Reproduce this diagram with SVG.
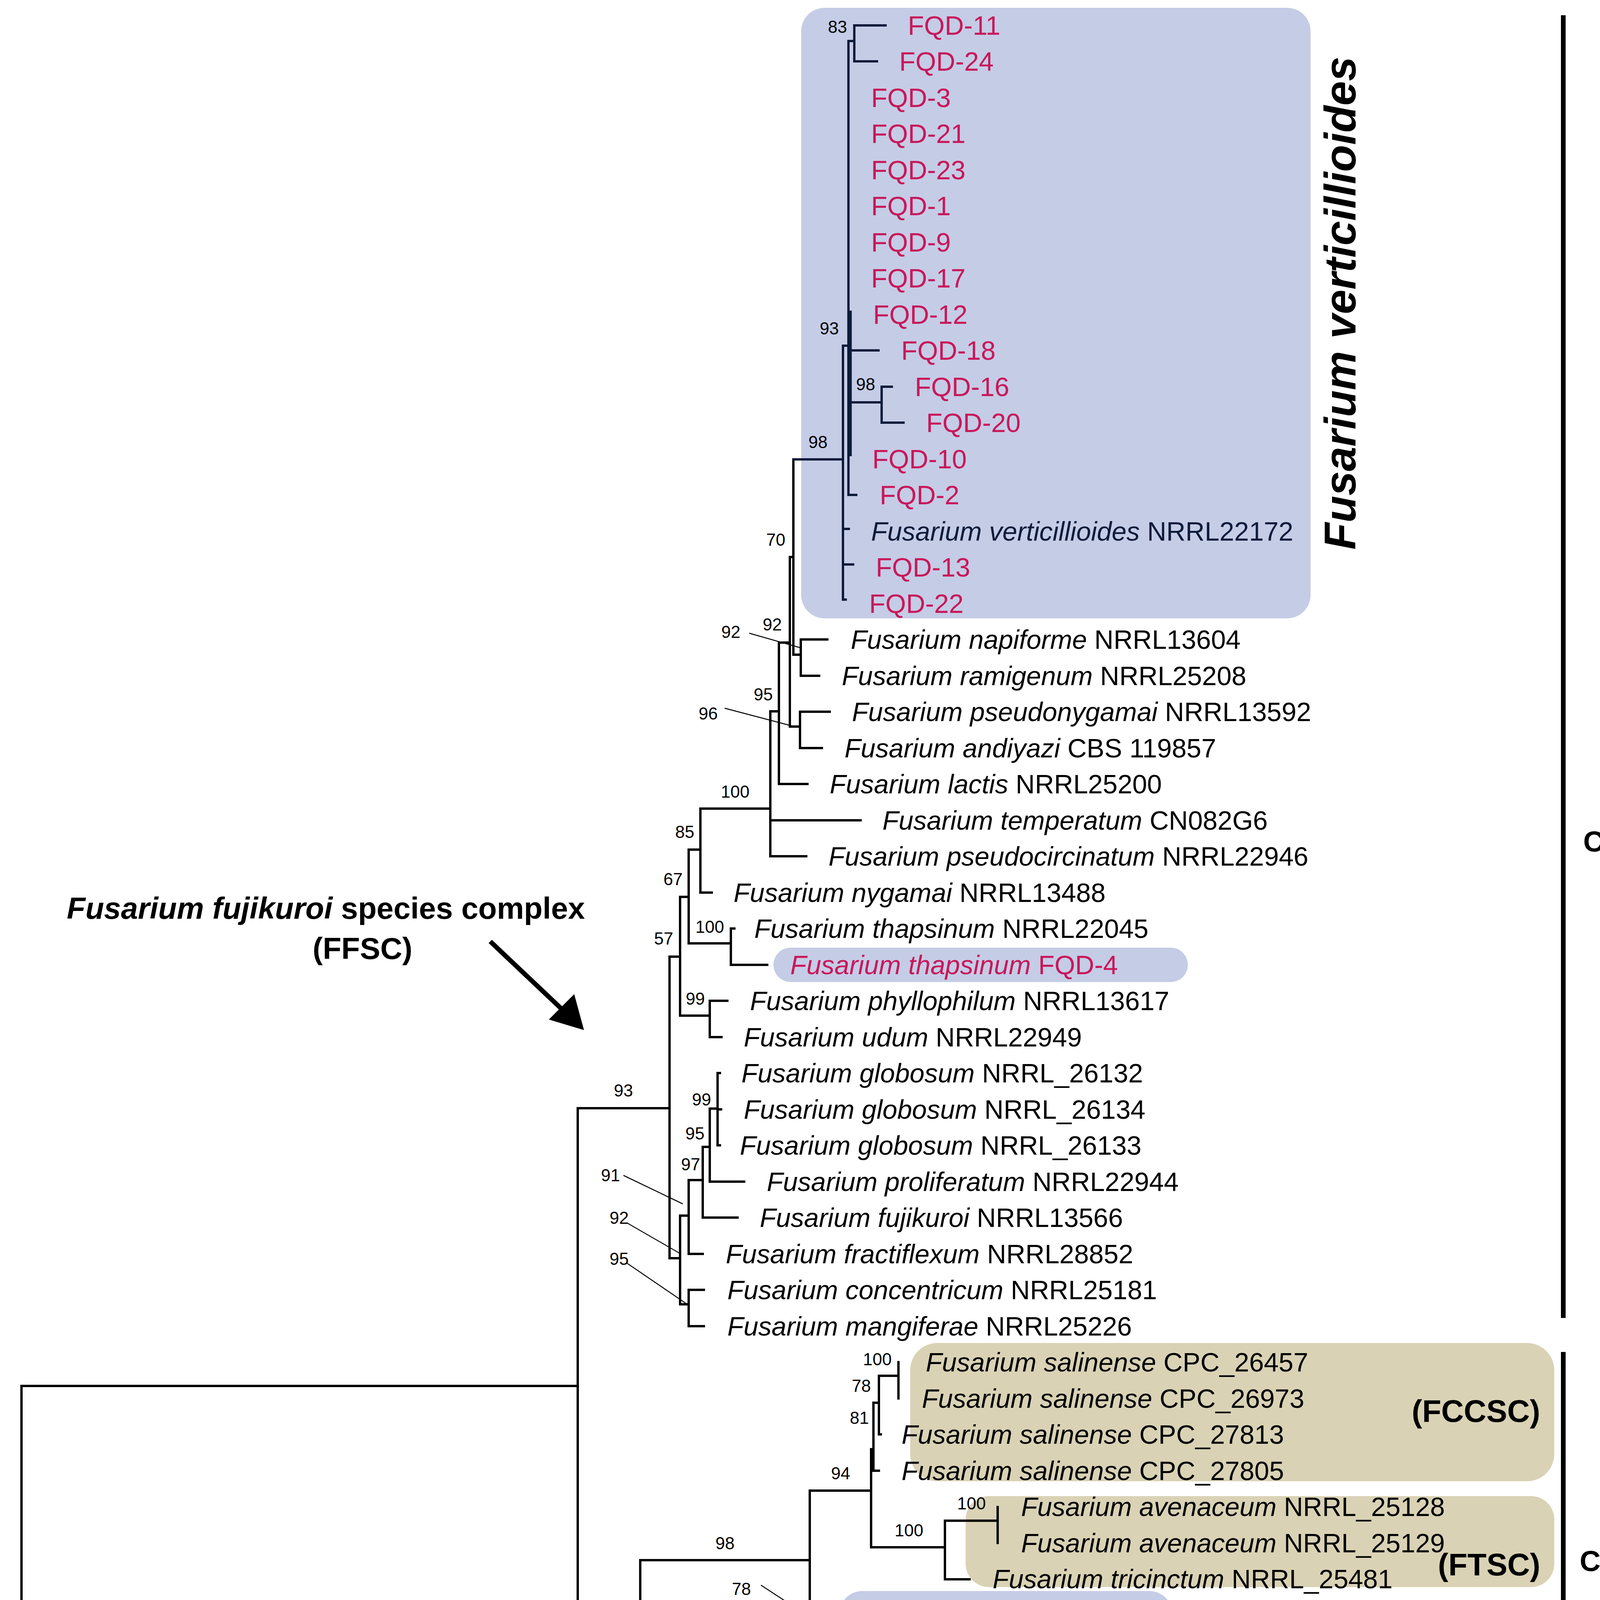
<svg xmlns="http://www.w3.org/2000/svg" width="4335" height="5063" viewBox="0 0 4335 5063">
<style>
.br{fill:none;stroke:#000;stroke-width:6;stroke-linecap:square}
.nv{fill:none;stroke:#0d1b3a;stroke-width:6;stroke-linecap:square}
.ld{stroke:#000;stroke-width:2.5}
text{font-family:"Liberation Sans",Arial,sans-serif}
.lf{font-size:68px;fill:#000}
.m{fill:#c8185a}
.bs{font-size:44px;text-anchor:middle}
.b{font-weight:bold}
.blue{fill:#c5cce6}
.tan{fill:#d9d2b5}
</style>
<rect width="4335" height="5063" fill="#fff"/>
<g id="boxes">
<rect class="blue" x="2051" y="20" width="1304" height="1563" rx="60"/>
<rect class="blue" x="1980" y="2426" width="1061" height="88" rx="44"/>
<rect class="tan" x="2330" y="3438" width="1649" height="354" rx="70"/>
<rect class="tan" x="2472" y="3830" width="1507" height="233" rx="60"/>
<rect class="blue" x="2148" y="4073" width="854" height="199" rx="60"/>
<rect class="tan" x="2100" y="4292" width="1879" height="235" rx="60"/>
<rect class="tan" x="2254" y="4558" width="1725" height="158" rx="60"/>
</g>
<g id="connectors">
<path class="br" d="M26 4167H55M55 3548V4772M55 3548H1479M55 4772H1481
M1479 2837V4262M1479 2837H1714M1479 4262H1639
M1714 2449V3221M1714 2449H1741M1714 3221H1741
M1741 2296V2600M1741 2296H1763M1741 2600H1817
M1817 2562V2655M1817 2562H1862M1817 2655H1847
M1763 2175V2415M1763 2175H1793M1763 2415H1871
M1871 2377V2470M1871 2377H1880M1871 2470H1964
M1793 2070V2285M1793 2070H1972M1793 2285H1822
M1972 1821V2192M1972 1821H1994M1972 2100H2203M1972 2192H2064
M1994 1645V2007M1994 1645H2022M1994 2007H2067
M2022 1426V1860M2022 1426H2031M2022 1860H2048
M2048 1822V1915M2048 1822H2124M2048 1915H2104
M2031 1176V1676M2031 1676H2050
M2050 1637V1730M2050 1637H2118M2050 1730H2097
M1817 2838V3025M1817 2838H1837M1837 2747V2932M1837 2747H1843M1837 2840H1846M1837 2932H1843M1817 3025H1905
M1799 2936V3117M1799 2936H1817M1799 3117H1888
M1763 3021V3210M1763 3021H1799M1763 3210H1799
M1741 3112V3339M1741 3112H1763M1741 3339H1763
M1763 3302V3395M1763 3302H1802M1763 3395H1802
M1639 3994V4527M1639 3994H2073M1639 4527H1851
M2073 3816V4172M2073 3816H2230M2073 4172H2111
M2111 4135V4228M2111 4228H2129
M2230 3710V3961M2230 3710H2236M2230 3961H2419
M2236 3591V3765M2236 3765H2250M2236 3591H2250M2250 3522V3672M2250 3522H2300M2300 3487V3580M2250 3672H2255
M2419 3893V4043M2419 3893H2554M2419 4043H2482M2554 3858V3950
M1851 4423V4631M1851 4423H2018M1851 4631H2319
M2018 4354V4505M2018 4354H2072M2018 4505H2076M2072 4320V4412M2072 4320H2113M2072 4412H2129
M2319 4597V4690M2319 4597H2368M2319 4690H2427
M1093 4959H1488"/>
<path class="nv" d="M2031 1176H2158M2158 885V1535M2158 885H2172M2158 1354H2173M2158 1445H2184M2158 1535H2165
M2172 105V1267M2172 105H2187M2172 1267H2192
M2187 65V157M2187 65H2267M2187 157H2245
M2175 897H2249
M2175 1030H2257M2257 990V1082M2257 990H2283M2257 1082H2313"/>
<path d="M2175 795V1168" stroke="#0d1b3a" stroke-width="11"/>
<g class="ld">
<line x1="1918" y1="1621" x2="2048" y2="1658"/>
<line x1="1855" y1="1813" x2="2026" y2="1858"/>
<line x1="1596" y1="3009" x2="1748" y2="3082"/>
<line x1="1604" y1="3130" x2="1741" y2="3209"/>
<line x1="1604" y1="3233" x2="1755" y2="3336"/>
<line x1="1948" y1="4058" x2="2093" y2="4153"/>
</g>
<line x1="1255" y1="2410" x2="1440" y2="2585" stroke="#000" stroke-width="12"/>
<polygon points="1495,2637 1405,2610 1470,2545" fill="#000"/>
</g>
<g id="bootstrap" class="bs">
<text x="2144" y="84">83</text><text x="2123" y="856">93</text><text x="2216" y="999">98</text><text x="2094" y="1147">98</text>
<text x="1986" y="1397">70</text><text x="1977" y="1614">92</text><text x="1871" y="1633">92</text><text x="1954" y="1793">95</text>
<text x="1813" y="1842">96</text><text x="1882" y="2042">100</text><text x="1753" y="2145">85</text><text x="1723" y="2266">67</text>
<text x="1817" y="2388">100</text><text x="1699" y="2418">57</text><text x="1780" y="2572">99</text><text x="1596" y="2807">93</text>
<text x="1796" y="2830">99</text><text x="1779" y="2917">95</text><text x="1768" y="2996">97</text><text x="1563" y="3024">91</text>
<text x="1585" y="3133">92</text><text x="1585" y="3238">95</text><text x="1558" y="4231">80</text><text x="1856" y="3966">98</text>
<text x="2152" y="3787">94</text><text x="2327" y="3933">100</text><text x="2487" y="3864">100</text><text x="2205" y="3563">78</text>
<text x="2200" y="3645">81</text><text x="2246" y="3495">100</text><text x="1898" y="4083">78</text><text x="1744" y="4498">99</text>
<text x="1935" y="4394">100</text><text x="2028" y="4326">100</text><text x="2086" y="4603">100</text>
</g>
<g id="leaves" class="lf">
<text class="m" x="2324" y="89">FQD-11</text>
<text class="m" x="2302" y="181">FQD-24</text>
<text class="m" x="2230" y="274">FQD-3</text>
<text class="m" x="2230" y="366">FQD-21</text>
<text class="m" x="2230" y="459">FQD-23</text>
<text class="m" x="2230" y="551">FQD-1</text>
<text class="m" x="2230" y="644">FQD-9</text>
<text class="m" x="2230" y="736">FQD-17</text>
<text class="m" x="2235" y="829">FQD-12</text>
<text class="m" x="2307" y="921">FQD-18</text>
<text class="m" x="2342" y="1014">FQD-16</text>
<text class="m" x="2371" y="1106">FQD-20</text>
<text class="m" x="2233" y="1199">FQD-10</text>
<text class="m" x="2252" y="1291">FQD-2</text>
<text x="2230" y="1384" fill="#0d1b3a"><tspan font-style="italic">Fusarium verticillioides</tspan> NRRL22172</text>
<text class="m" x="2242" y="1476">FQD-13</text>
<text class="m" x="2225" y="1569">FQD-22</text>
<text x="2178" y="1661"><tspan font-style="italic">Fusarium napiforme</tspan> NRRL13604</text>
<text x="2155" y="1754"><tspan font-style="italic">Fusarium ramigenum</tspan> NRRL25208</text>
<text x="2181" y="1846"><tspan font-style="italic">Fusarium pseudonygamai</tspan> NRRL13592</text>
<text x="2162" y="1939"><tspan font-style="italic">Fusarium andiyazi</tspan> CBS 119857</text>
<text x="2124" y="2031"><tspan font-style="italic">Fusarium lactis</tspan> NRRL25200</text>
<text x="2259" y="2124"><tspan font-style="italic">Fusarium temperatum</tspan> CN082G6</text>
<text x="2121" y="2216"><tspan font-style="italic">Fusarium pseudocircinatum</tspan> NRRL22946</text>
<text x="1878" y="2309"><tspan font-style="italic">Fusarium nygamai</tspan> NRRL13488</text>
<text x="1931" y="2401"><tspan font-style="italic">Fusarium thapsinum</tspan> NRRL22045</text>
<text class="m" x="2023" y="2494"><tspan font-style="italic">Fusarium thapsinum</tspan> FQD-4</text>
<text x="1920" y="2586"><tspan font-style="italic">Fusarium phyllophilum</tspan> NRRL13617</text>
<text x="1904" y="2679"><tspan font-style="italic">Fusarium udum</tspan> NRRL22949</text>
<text x="1898" y="2771"><tspan font-style="italic">Fusarium globosum</tspan> NRRL_26132</text>
<text x="1904" y="2864"><tspan font-style="italic">Fusarium globosum</tspan> NRRL_26134</text>
<text x="1894" y="2956"><tspan font-style="italic">Fusarium globosum</tspan> NRRL_26133</text>
<text x="1963" y="3049"><tspan font-style="italic">Fusarium proliferatum</tspan> NRRL22944</text>
<text x="1945" y="3141"><tspan font-style="italic">Fusarium fujikuroi</tspan> NRRL13566</text>
<text x="1858" y="3234"><tspan font-style="italic">Fusarium fractiflexum</tspan> NRRL28852</text>
<text x="1862" y="3326"><tspan font-style="italic">Fusarium concentricum</tspan> NRRL25181</text>
<text x="1862" y="3419"><tspan font-style="italic">Fusarium mangiferae</tspan> NRRL25226</text>
<text x="2370" y="3511"><tspan font-style="italic">Fusarium salinense</tspan> CPC_26457</text>
<text x="2360" y="3604"><tspan font-style="italic">Fusarium salinense</tspan> CPC_26973</text>
<text x="2308" y="3696"><tspan font-style="italic">Fusarium salinense</tspan> CPC_27813</text>
<text x="2308" y="3789"><tspan font-style="italic">Fusarium salinense</tspan> CPC_27805</text>
<text x="2614" y="3881"><tspan font-style="italic">Fusarium avenaceum</tspan> NRRL_25128</text>
<text x="2614" y="3974"><tspan font-style="italic">Fusarium avenaceum</tspan> NRRL_25129</text>
<text x="2541" y="4066"><tspan font-style="italic">Fusarium tricinctum</tspan> NRRL_25481</text>
<text class="m" x="2170" y="4159"><tspan font-style="italic">Fusarium</tspan> sp. FOFMC-26</text>
<text class="m" x="2187" y="4251"><tspan font-style="italic">Fusarium</tspan> sp. FOFMC-27</text>
<text x="2170" y="4344"><tspan font-style="italic">Fusarium chlamydosporum</tspan> SC NRRL_13444</text>
<text x="2186" y="4436"><tspan font-style="italic">Fusarium chlamydosporum</tspan> SC NRRL_28578</text>
<text x="2133" y="4529"><tspan font-style="italic">Fusarium nelsonii</tspan> NRRL_13338</text>
<text x="2424" y="4621"><tspan font-style="italic">Fusarium lacertarum</tspan> NRRL_20423</text>
<text x="2487" y="4714"><tspan font-style="italic">Fusarium equiseti</tspan> NRRL_20697</text>
<text x="1538" y="4806"><tspan font-style="italic">Fusicolla aquaeductuum</tspan> CBS_734.79</text>
</g>
<g id="annotations" class="b">
<text x="3470" y="776" transform="rotate(-90 3470 776)" font-size="113" font-style="italic" text-anchor="middle">Fusarium verticillioides</text>
<text x="171" y="2352" font-size="78"><tspan font-style="italic">Fusarium fujikuroi</tspan> species complex</text>
<text x="928" y="2455" font-size="78" text-anchor="middle">(FFSC)</text>
<text x="3614" y="3640" font-size="80">(FCCSC)</text>
<text x="3681" y="4033" font-size="80">(FTSC)</text>
<text x="3015" y="4222" font-size="74">Potential new species</text>
<text x="3646" y="4430" font-size="80">(FCSC)</text>
<text x="3552" y="4666" font-size="80">(FIESC)</text>
<text x="4053" y="2180" font-size="74">Clade-I</text>
<text x="4044" y="4022" font-size="74">Clade-II</text>
<text x="2753" y="4810" font-size="88">Outgroup</text>
<rect x="3996" y="39" width="12" height="3335"/>
<rect x="3996" y="3461" width="12" height="1278"/>
<rect x="2703" y="4736" width="12" height="77"/>
</g>
<text x="1294" y="5050" font-size="50" text-anchor="middle">0.05</text>
</svg>
